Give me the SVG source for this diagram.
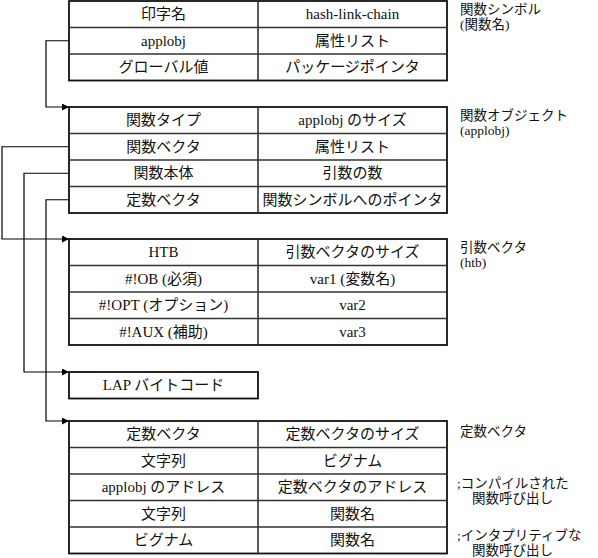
<svg xmlns="http://www.w3.org/2000/svg" width="598" height="558" viewBox="0 0 598 558">
<style>
.box{fill:#fff;stroke:#111;stroke-width:1.8}
.sep{stroke:#333;stroke-width:1.6;fill:none}
.cell{font-family:"Liberation Serif","Noto Sans CJK JP",serif;font-size:15px;fill:#111;text-anchor:middle}
.lbl{font-family:"Liberation Serif","Noto Sans CJK JP",serif;font-size:13.5px;fill:#111}
.conn{stroke:#000;stroke-width:1.2;fill:none}
</style>
<defs>
<marker id="ah" markerWidth="8" markerHeight="8" refX="7" refY="3.5" orient="auto" markerUnits="userSpaceOnUse">
<path d="M0,0 L7,3.5 L0,7 Z" fill="#000"/>
</marker>
</defs>
<rect width="598" height="558" fill="#fff"/>
<g id="connectors">
<path class="conn" d="M69,40.75 H46 V107 H69" marker-end="url(#ah)"/>
<path class="conn" d="M69,146.75 H2 V239 H69" marker-end="url(#ah)"/>
<path class="conn" d="M69,173.25 H24 V372 H69" marker-end="url(#ah)"/>
<path class="conn" d="M69,199.75 H46 V421 H69" marker-end="url(#ah)"/>
</g>
<g id="function-symbol">
<rect class="box" x="69" y="1" width="378" height="79.5"/>
<path class="sep" d="M69,27.5 H447 M69,54 H447 M258,1 V80.5"/>
<text class="cell" x="163.5" y="19">印字名</text>
<text class="cell" x="352.5" y="19">hash-link-chain</text>
<text class="cell" x="163.5" y="45.5">applobj</text>
<text class="cell" x="352.5" y="45.5">属性リスト</text>
<text class="cell" x="163.5" y="72">グローバル値</text>
<text class="cell" x="352.5" y="72">パッケージポインタ</text>
</g>
<g id="label-function-symbol">
<text class="lbl" x="460" y="14">関数シンボル</text>
<text class="lbl" x="460" y="29">(関数名)</text>
</g>
<g id="function-object">
<rect class="box" x="69" y="107" width="378" height="106"/>
<path class="sep" d="M69,133.5 H447 M69,160 H447 M69,186.5 H447 M258,107 V213"/>
<text class="cell" x="163.5" y="125">関数タイプ</text>
<text class="cell" x="352.5" y="125">applobj のサイズ</text>
<text class="cell" x="163.5" y="151.5">関数ベクタ</text>
<text class="cell" x="352.5" y="151.5">属性リスト</text>
<text class="cell" x="163.5" y="178">関数本体</text>
<text class="cell" x="352.5" y="178">引数の数</text>
<text class="cell" x="163.5" y="204.5">定数ベクタ</text>
<text class="cell" x="352.5" y="204.5">関数シンボルへのポインタ</text>
</g>
<g id="label-function-object">
<text class="lbl" x="460" y="120">関数オブジェクト</text>
<text class="lbl" x="460" y="135">(applobj)</text>
</g>
<g id="argument-vector">
<rect class="box" x="69" y="239" width="378" height="106"/>
<path class="sep" d="M69,265.5 H447 M69,292 H447 M69,318.5 H447 M258,239 V345"/>
<text class="cell" x="163.5" y="257">HTB</text>
<text class="cell" x="352.5" y="257">引数ベクタのサイズ</text>
<text class="cell" x="163.5" y="283.5">#!OB (必須)</text>
<text class="cell" x="352.5" y="283.5">var1 (変数名)</text>
<text class="cell" x="163.5" y="310">#!OPT (オプション)</text>
<text class="cell" x="352.5" y="310">var2</text>
<text class="cell" x="163.5" y="336.5">#!AUX (補助)</text>
<text class="cell" x="352.5" y="336.5">var3</text>
</g>
<g id="label-argument-vector">
<text class="lbl" x="460" y="252">引数ベクタ</text>
<text class="lbl" x="460" y="267">(htb)</text>
</g>
<g id="lap-bytecode">
<rect class="box" x="69" y="372" width="189" height="26.5"/>
<text class="cell" x="163.5" y="390">LAP バイトコード</text>
</g>
<g id="constant-vector">
<rect class="box" x="69" y="421" width="378" height="132.5"/>
<path class="sep" d="M69,447.5 H447 M69,474 H447 M69,500.5 H447 M69,527 H447 M258,421 V553.5"/>
<text class="cell" x="163.5" y="439">定数ベクタ</text>
<text class="cell" x="352.5" y="439">定数ベクタのサイズ</text>
<text class="cell" x="163.5" y="465.5">文字列</text>
<text class="cell" x="352.5" y="465.5">ビグナム</text>
<text class="cell" x="163.5" y="492">applobj のアドレス</text>
<text class="cell" x="352.5" y="492">定数ベクタのアドレス</text>
<text class="cell" x="163.5" y="518.5">文字列</text>
<text class="cell" x="352.5" y="518.5">関数名</text>
<text class="cell" x="163.5" y="545">ビグナム</text>
<text class="cell" x="352.5" y="545">関数名</text>
</g>
<g id="label-constant-vector">
<text class="lbl" x="460" y="436">定数ベクタ</text>
<text class="lbl" x="457" y="488">;コンパイルされた</text>
<text class="lbl" x="472" y="503">関数呼び出し</text>
<text class="lbl" x="457" y="540">;インタプリティブな</text>
<text class="lbl" x="472" y="555">関数呼び出し</text>
</g>
</svg>
